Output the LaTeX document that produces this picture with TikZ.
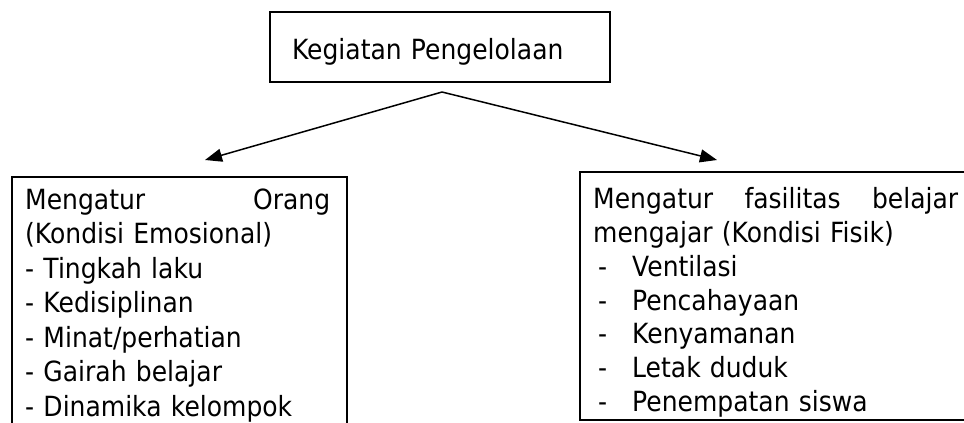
\documentclass[tikz,border=0pt]{standalone}
\usepackage{fontspec}
\setmainfont{DejaVu Sans}[FakeStretch=0.9]
\usetikzlibrary{arrows.meta}
\begin{document}
\begin{tikzpicture}[x=1pt,y=-1pt,
  box/.style={draw,line width=2pt},
  conn/.style={line width=1.5pt,-{Triangle[length=17pt,width=13pt]}},
  txt/.style={inner sep=0pt,anchor=north west,align=left}]
\useasboundingbox (0,0) rectangle (964,423);
\clip (0,0) rectangle (964,423);
\node[box, minimum width=340pt, minimum height=70pt, inner xsep=22pt, inner ysep=0pt,
      text width=296pt, text height=24pt, text depth=0pt, align=left,
      font=\fontsize{27.8}{34.5}\selectfont] (top) at (440,47) {Kegiatan Pengelolaan};
\coordinate (apex) at (442,92);
\coordinate (lt) at (205,160);
\coordinate (rt) at (717,160);
\draw[conn] (apex) -- (lt);
\draw[conn] (apex) -- (rt);
\draw[box] (12,440) -- (12,177) -- (347,177) -- (347,440);
\draw[box] (990,420) -- (580,420) -- (580,172) -- (990,172);
\node[txt, text width=305pt, font=\fontsize{27.8}{34.5}\selectfont] (ltext) at (25,184.9)
  {\strut\makebox[305pt][l]{Mengatur\hspace{\fill}Orang}\\
   (Kondisi Emosional)\\
   - Tingkah laku\\
   - Kedisiplinan\\
   - Minat/perhatian\\
   - Gairah belajar\\
   - Dinamika kelompok};
\node[txt, text width=370pt, font=\fontsize{27.8}{33.8}\selectfont] (rtext) at (593,184.8)
  {\strut\makebox[365pt][l]{Mengatur\hspace{\fill}fasilitas\hspace{\fill}belajar}\\
   mengajar (Kondisi Fisik)\\
   \hspace*{5pt}\makebox[34pt][l]{-}Ventilasi\\
   \hspace*{5pt}\makebox[34pt][l]{-}Pencahayaan\\
   \hspace*{5pt}\makebox[34pt][l]{-}Kenyamanan\\
   \hspace*{5pt}\makebox[34pt][l]{-}Letak duduk\\
   \hspace*{5pt}\makebox[34pt][l]{-}Penempatan siswa};
\end{tikzpicture}
\end{document}
